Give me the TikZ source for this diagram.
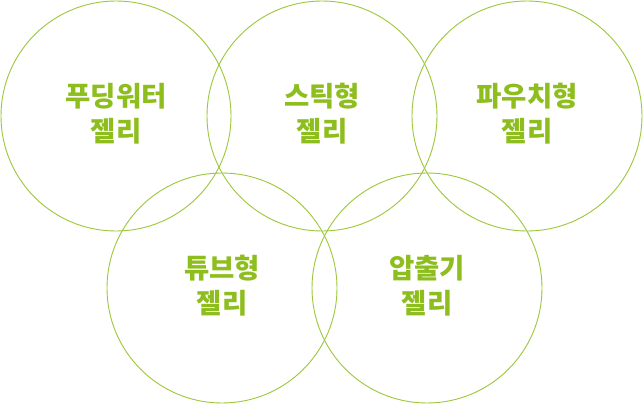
\documentclass[tikz,border=0pt]{standalone}
\usepackage{fontspec}
\newfontfamily\kofont{Noto Sans CJK KR}
\definecolor{jellygreen}{HTML}{8DBE1E}
\definecolor{ringgreen}{HTML}{9CC83A}
\tikzset{
  ring/.style={draw=ringgreen, line width=0.9pt, circle, minimum size=230pt, inner sep=0pt},
  lbl/.style={text=jellygreen, align=center, font=\kofont\bfseries\fontsize{27.5pt}{35pt}\selectfont}
}
\begin{document}
\begin{tikzpicture}[x=1pt,y=-1pt]
      \useasboundingbox (0,0) rectangle (643,404);
      \node[ring] (pudding) at (116,116) {};
      \node[ring] (stick) at (322,116) {};
      \node[ring] (pouch) at (527,116) {};
      \node[ring] (tube) at (222,288) {};
      \node[ring] (extrude) at (427,288) {};
      \node[lbl] (t1) at (116,114) {푸딩워터\\젤리};
      \node[lbl] (t2) at (322,114) {스틱형\\젤리};
      \node[lbl] (t3) at (527,114) {파우치형\\젤리};
      \node[lbl] (t4) at (222,286) {튜브형\\젤리};
      \node[lbl] (t5) at (427,286) {압출기\\젤리};
    \end{tikzpicture}
\end{document}
